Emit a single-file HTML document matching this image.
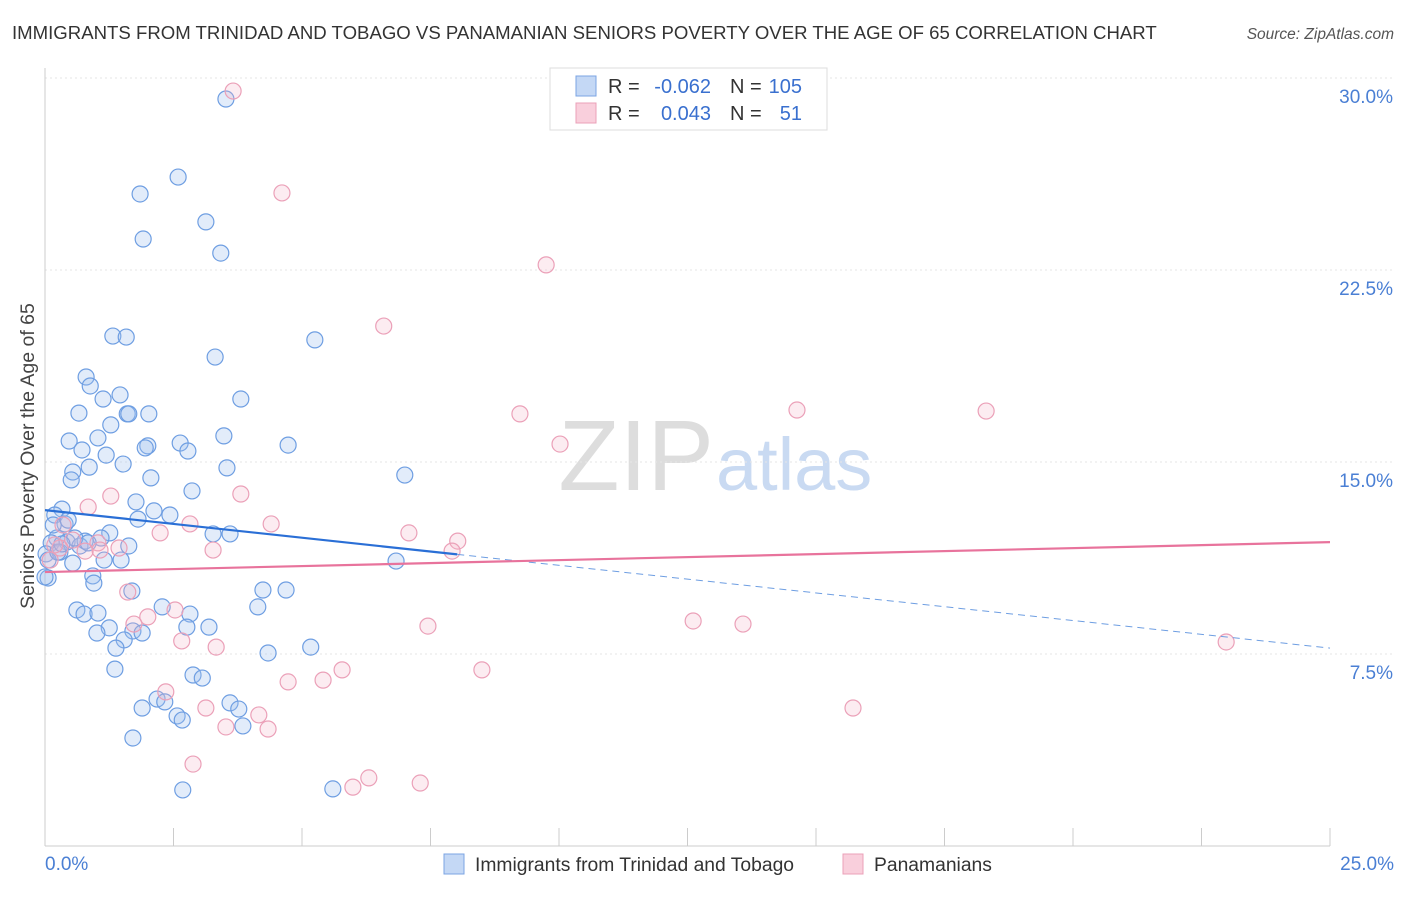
<!DOCTYPE html>
<html><head><meta charset="utf-8"><style>
body{margin:0;background:#fff;font-family:"Liberation Sans",sans-serif}
svg text{font-family:"Liberation Sans",sans-serif}
</style></head><body>
<svg id="c" width="1406" height="892">
<text x="12" y="39" font-size="18.6" fill="#333">IMMIGRANTS FROM TRINIDAD AND TOBAGO VS PANAMANIAN SENIORS POVERTY OVER THE AGE OF 65 CORRELATION CHART</text>
<text x="1394" y="39" font-size="15.5" fill="#555" text-anchor="end" font-style="italic">Source: ZipAtlas.com</text>
<text x="714" y="490" font-size="100" fill="#ddd" text-anchor="end" font-family="Liberation Serif">ZIP</text>
<text x="716" y="490" font-size="74" fill="#c9daf2">atlas</text>
<g id="grid"></g><g id="pts"></g><g id="lines"></g>
<text x="-456" y="34" transform="rotate(-90)" font-size="19.5" fill="#444" text-anchor="middle">Seniors Poverty Over the Age of 65</text>
<text x="45" y="870" font-size="19" fill="#4a7fd4">0.0%</text>
<text x="1394" y="870" font-size="19" fill="#4a7fd4" text-anchor="end">25.0%</text>
<g>
<rect x="550" y="68" width="277" height="62" fill="#fff" stroke="#ddd"/>
<rect x="576" y="76" width="20" height="20" fill="#c4d8f5" stroke="#7ba4e3"/>
<rect x="576" y="103" width="20" height="20" fill="#f9cfdc" stroke="#eba0b8"/>
<text x="608" y="93" font-size="20" fill="#333">R =</text>
<text x="711" y="93" font-size="20" fill="#3a70cf" text-anchor="end">-0.062</text>
<text x="730" y="93" font-size="20" fill="#333">N =</text>
<text x="802" y="93" font-size="20" fill="#3a70cf" text-anchor="end">105</text>
<text x="608" y="120" font-size="20" fill="#333">R =</text>
<text x="711" y="120" font-size="20" fill="#3a70cf" text-anchor="end">0.043</text>
<text x="730" y="120" font-size="20" fill="#333">N =</text>
<text x="802" y="120" font-size="20" fill="#3a70cf" text-anchor="end">51</text>
</g>
<g>
<rect x="444" y="854" width="20" height="20" fill="#c4d8f5" stroke="#7ba4e3"/>
<text x="475" y="871" font-size="19.3" fill="#333">Immigrants from Trinidad and Tobago</text>
<rect x="843" y="854" width="20" height="20" fill="#f9cfdc" stroke="#eba0b8"/>
<text x="874" y="871" font-size="19.3" fill="#333">Panamanians</text>
</g>
</svg>
<script>
const yTicks=[7.5,15,22.5,30];
const yTickLabels=["7.5%","15.0%","22.5%","30.0%"];
const xTicks=[0,2.5,5,7.5,10,12.5,15,17.5,20,22.5,25];
const blueX=[3.52,2.59,1.85,3.13,1.91,3.42,1.32,1.58,5.25,3.31,0.80,0.88,1.46,1.13,3.81,0.66,1.60,1.63,2.02,1.28,3.48,0.47,1.03,2.00,1.95,2.63,2.78,4.73,0.72,1.19,0.86,0.54,1.52,3.54,0.51,2.06,7.00,2.86,1.77,0.33,0.19,0.39,1.81,2.12,2.43,1.26,1.09,3.27,3.60,0.23,0.12,0.43,0.68,1.63,0.02,0.29,0.78,1.15,1.48,6.83,0.06,0.93,0.95,1.69,4.24,4.69,0.62,0.76,1.03,2.28,2.82,4.14,1.25,1.01,1.71,1.89,2.76,3.19,1.54,1.38,4.34,5.17,1.36,2.88,3.06,2.18,2.33,1.89,3.60,3.77,2.57,2.67,3.85,1.71,2.68,5.60,0.06,0.16,0.25,0.58,0.33,0.00,0.45,0.54,0.84];
const blueY=[29.18,26.13,25.47,24.38,23.71,23.16,19.92,19.88,19.77,19.10,18.32,17.97,17.62,17.46,17.46,16.91,16.88,16.88,16.88,16.45,16.02,15.82,15.94,15.63,15.55,15.74,15.43,15.66,15.47,15.27,14.80,14.61,14.92,14.77,14.30,14.38,14.49,13.87,13.44,13.16,12.93,12.58,12.77,13.09,12.93,12.23,12.03,12.19,12.19,12.03,11.84,11.88,11.72,11.72,11.41,11.48,11.91,11.17,11.17,11.13,10.47,10.55,10.27,9.96,10.00,10.00,9.22,9.06,9.10,9.34,9.06,9.34,8.52,8.32,8.40,8.32,8.55,8.55,8.05,7.73,7.54,7.77,6.91,6.68,6.56,5.74,5.63,5.39,5.59,5.35,5.08,4.92,4.69,4.22,2.19,2.23,11.17,12.54,11.48,12.03,11.80,10.51,12.73,11.05,11.84];
const pinkX=[3.66,4.61,9.75,6.59,9.24,14.63,18.31,10.02,1.28,3.81,0.84,4.40,2.82,2.24,7.08,8.03,7.92,0.54,1.03,1.44,3.27,0.29,1.07,1.61,2.00,2.53,1.73,2.66,3.33,7.45,12.61,13.58,22.98,4.73,5.41,5.78,8.50,2.35,3.13,4.16,3.52,4.34,15.72,2.88,6.30,5.99,7.30,0.19,0.35,0.10,0.78];
const pinkY=[29.49,25.51,22.70,20.31,16.88,17.03,16.99,15.70,13.67,13.75,13.24,12.58,12.58,12.23,12.23,11.91,11.52,11.95,11.84,11.64,11.56,11.64,11.56,9.92,8.95,9.22,8.67,8.01,7.77,8.59,8.79,8.67,7.97,6.41,6.48,6.88,6.88,6.02,5.39,5.12,4.65,4.57,5.39,3.20,2.66,2.30,2.46,11.76,12.54,11.17,11.52];
const blueTrend=[13.12,7.73], blueSolidEnd=8.02;
const pinkTrend=[10.70,11.87];
const X=v=>45+v/25*1285, Y=v=>846-v/30*768;
const NS="http://www.w3.org/2000/svg";
function mk(p,t,a){const e=document.createElementNS(NS,t);for(const k in a)e.setAttribute(k,a[k]);p.appendChild(e);return e;}
const g=document.getElementById('grid');
yTicks.forEach((t,i)=>{
 const l=mk(g,'line',{x1:45,x2:1394,y1:Y(t),y2:Y(t),stroke:'#e6e6e6','stroke-dasharray':'2,3'});
 
 
 const tx=mk(g,'text',{x:1393,y:Y(t)+25,'font-size':19,fill:'#4a7fd4','text-anchor':'end'});tx.textContent=yTickLabels[i];
 
 
});
const ax=mk(g,'line',{x1:45,x2:45,y1:68,y2:846,stroke:'#ccc'});


const bx=mk(g,'line',{x1:45,x2:1330,y1:846,y2:846,stroke:'#ccc'});


xTicks.forEach(t=>{const l=mk(g,'line',{x1:X(t),x2:X(t),y1:828,y2:846,stroke:'#ccc'});
 
 });
const p=document.getElementById('pts');
blueX.forEach((v,i)=>{const c=mk(p,'circle',{cx:X(v),cy:Y(blueY[i]),r:8,fill:'rgba(160,192,240,0.3)',stroke:'#6e9ee2','stroke-width':1.2});
 
 });
pinkX.forEach((v,i)=>{const c=mk(p,'circle',{cx:X(v),cy:Y(pinkY[i]),r:8,fill:'rgba(245,180,200,0.25)',stroke:'#eba0b8','stroke-width':1.2});
 
 });
const L=document.getElementById('lines');
const bAt=x=>blueTrend[0]+(blueTrend[1]-blueTrend[0])*x/25;
let a=mk(L,'line',{x1:X(0),y1:Y(bAt(0)),x2:X(blueSolidEnd),y2:Y(bAt(blueSolidEnd)),stroke:'#2a6fd6','stroke-width':2.2});


a=mk(L,'line',{x1:X(blueSolidEnd),y1:Y(bAt(blueSolidEnd)),x2:X(25),y2:Y(bAt(25)),stroke:'#6e9ee2','stroke-width':1,'stroke-dasharray':'7,5'});


a=mk(L,'line',{x1:X(0),y1:Y(pinkTrend[0]),x2:X(25),y2:Y(pinkTrend[1]),stroke:'#e8739c','stroke-width':2.2});


</script>
</body></html>
